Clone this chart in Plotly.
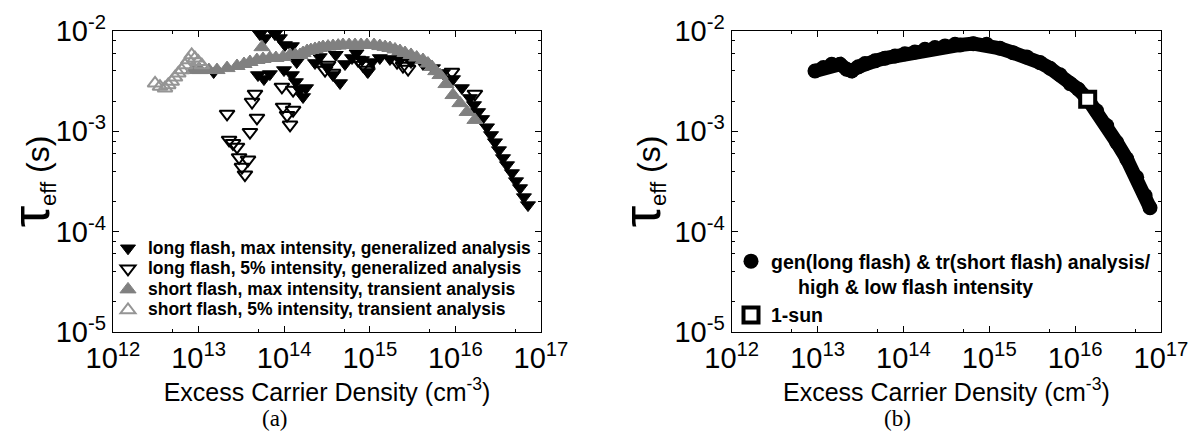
import plotly.graph_objects as go

# ---------------- data: panel (a) ----------------
long_max_x = [1.5e13, 4.94e13, 5.2e13, 5.8e13, 5.97e13, 6.8e13, 7.8e13, 8.9e13, 9.95e13, 1.02e14,
              1.23e14, 1.23e14, 1.37e14, 1.4e14, 1.53e14, 1.66e14, 1.8e14, 2.29e14, 2.6e14, 3.16e14,
              3.72e14, 4.0e14, 4.49e14, 5.13e14, 6.2e14, 7.0e14, 8.1e14, 9.5e14, 1.06e15, 1.31e15,
              1.72e15, 2.25e15, 3.03e15, 4.18e15, 5.47e15, 7.16e15, 9.37e15, 1.19e16, 1.48e16, 1.65e16,
              1.84e16, 2.05e16, 2.34e16, 2.61e16, 2.90e16, 3.23e16, 3.60e16, 4.01e16, 4.58e16, 5.11e16,
              5.69e16, 6.32e16, 7.05e16]
long_max_y = [3.9e-3, 3.64e-3, 9.3e-3, 3.32e-3, 8.5e-3, 3.72e-3, 9.3e-3, 8.5e-3, 4.08e-3, 7.25e-3,
              7.08e-3, 3.64e-3, 3.1e-3, 4.9e-3, 2.58e-3, 2.2e-3, 2.7e-3, 4.8e-3, 5.5e-3, 4.38e-3,
              3.64e-3, 5.8e-3, 3.03e-3, 4.69e-3, 5.38e-3, 6.0e-3, 5.14e-3, 3.9e-3, 4.9e-3, 5.38e-3,
              5.26e-3, 5.14e-3, 4.91e-3, 4.69e-3, 4.27e-3, 3.81e-3, 3.32e-3, 2.70e-3, 2.15e-3, 1.83e-3,
              1.56e-3, 1.33e-3, 1.10e-3, 9.2e-4, 7.8e-4, 6.5e-4, 5.42e-4, 4.61e-4, 3.84e-4, 3.19e-4,
              2.72e-4, 2.21e-4, 1.84e-4]

long_5_x = [2.15e13, 2.27e13, 2.52e13, 2.81e13, 2.97e13, 3.21e13, 3.48e13, 3.78e13, 3.98e13, 4.21e13,
            4.56e13, 4.81e13, 9.4e13, 9.7e13, 1.08e14, 1.17e14, 1.27e14, 1.27e14, 3.0e14, 3.25e14,
            3.72e14, 7.3e14, 8.3e14, 9.3e14, 2.08e15, 2.44e15, 2.8e15, 9.1e15, 1.69e16]
long_5_y = [1.49e-3, 8.2e-4, 7.6e-4, 7.0e-4, 5.5e-4, 4.4e-4, 3.7e-4, 5.2e-4, 9.8e-4, 1.96e-3,
            2.36e-3, 1.36e-3, 2.77e-3, 1.75e-3, 1.45e-3, 1.16e-3, 1.63e-3, 2.58e-3, 4.08e-3, 4.58e-3,
            3.81e-3, 5.14e-3, 4.58e-3, 4.08e-3, 4.9e-3, 4.48e-3, 4.18e-3, 3.9e-3, 2.36e-3]

short_max_x = [8.6e12, 1.04e13, 1.32e13, 1.64e13, 2.15e13, 2.81e13, 3.39e13, 3.98e13, 4.8e13, 5.5e13,
               5.65e13, 6.8e13, 8.0e13, 9.7e13, 1.17e14, 1.35e14, 1.53e14, 1.66e14, 1.85e14, 2.05e14,
               2.29e14, 2.56e14, 2.84e14, 3.25e14, 3.72e14, 4.27e14, 4.86e14, 5.73e14, 6.72e14, 7.9e14,
               9.27e14, 1.12e15, 1.31e15, 1.51e15, 1.72e15, 1.97e15, 2.25e15, 2.58e15, 3.03e15, 3.53e15,
               4.18e15, 4.78e15, 5.33e15, 5.9e15, 6.61e15, 7.76e15, 9.37e15, 1.13e16, 1.37e16, 1.69e16]
short_max_y = [4.08e-3, 4.08e-3, 4.08e-3, 4.08e-3, 4.27e-3, 4.48e-3, 4.69e-3, 4.91e-3, 5.14e-3, 6.9e-3,
               5.26e-3, 5.38e-3, 5.38e-3, 5.51e-3, 5.77e-3, 5.77e-3, 5.77e-3, 6.03e-3, 6.32e-3, 6.46e-3,
               6.62e-3, 6.77e-3, 6.92e-3, 7.0e-3, 7.08e-3, 7.15e-3, 7.25e-3, 7.25e-3, 7.25e-3, 7.25e-3,
               7.25e-3, 7.25e-3, 7.08e-3, 6.92e-3, 6.77e-3, 6.55e-3, 6.32e-3, 6.03e-3, 5.77e-3, 5.44e-3,
               5.14e-3, 4.74e-3, 4.38e-3, 3.98e-3, 3.64e-3, 2.96e-3, 2.30e-3, 1.91e-3, 1.56e-3, 1.30e-3]

short_5_x = [3.10e12, 3.54e12, 4.05e12, 4.42e12, 4.85e12, 5.30e12, 5.79e12, 6.35e12, 6.94e12, 7.59e12,
             8.30e12, 9.07e12, 9.91e12, 1.09e13]
short_5_y = [3.01e-3, 2.79e-3, 2.69e-3, 2.90e-3, 3.13e-3, 3.45e-3, 3.79e-3, 4.08e-3, 4.58e-3, 5.14e-3,
             5.77e-3, 5.35e-3, 4.94e-3, 4.58e-3]

# ---------------- data: panel (b) ----------------
comb_x = [9.33e12, 1.17e13, 1.46e13, 1.83e13, 2.18e13, 2.50e13, 2.98e13, 3.57e13, 4.67e13, 6.10e13,
          7.98e13, 1.04e14, 1.36e14, 1.78e14, 2.33e14, 3.05e14, 3.99e14, 4.56e14, 6.52e14, 9.33e14,
          1.33e15, 1.89e15, 2.73e15, 3.90e15, 5.10e15, 6.67e15, 8.72e15, 1.09e16, 1.40e16, 1.78e16,
          2.33e16, 3.05e16, 3.99e16, 5.21e16, 6.52e16, 7.45e16]
comb_y = [4.00e-3, 4.32e-3, 4.67e-3, 4.67e-3, 4.16e-3, 4.00e-3, 4.39e-3, 4.73e-3, 5.04e-3, 5.36e-3,
          5.64e-3, 5.94e-3, 6.18e-3, 6.58e-3, 6.83e-3, 7.10e-3, 7.38e-3, 7.26e-3, 7.48e-3, 7.38e-3,
          6.73e-3, 6.08e-3, 5.52e-3, 4.84e-3, 4.26e-3, 3.66e-3, 2.99e-3, 2.63e-3, 2.09e-3, 1.60e-3,
          1.14e-3, 7.76e-4, 5.31e-4, 3.48e-4, 2.29e-4, 1.73e-4]

sun_x = [1.40e16]
sun_y = [2.09e-3]

# ---------------- labels ----------------
x_tickvals = [1e12, 1e13, 1e14, 1e15, 1e16, 1e17]
x_ticktext = ["10<sup>12</sup>", "10<sup>13</sup>", "10<sup>14</sup>", "10<sup>15</sup>",
              "10<sup>16</sup>", "10<sup>17</sup>"]
x_minor = [5e12, 5e13, 5e14, 5e15, 5e16]
y_tickvals = [1e-5, 1e-4, 1e-3, 1e-2]
y_ticktext = ["10<sup>-5</sup>", "10<sup>-4</sup>", "10<sup>-3</sup>", "10<sup>-2</sup>"]
y_minor = [m * 10.0 ** e for e in (-5, -4, -3) for m in (2, 4, 6, 8)]

x_title = "Excess Carrier Density (cm<sup>-3</sup>)"
y_title = '<span style="font-size:54px">τ</span><sub><span style="font-size:22px">eff</span></sub> (s)'

legend_a = ["long flash, max intensity, generalized analysis",
            "long flash, 5% intensity, generalized analysis",
            "short flash, max intensity, transient analysis",
            "short flash, 5% intensity, transient analysis"]
legend_b = ["gen(long flash) & tr(short flash) analysis/<br>" + "\u00a0" * 5 + "high & low flash intensity",
            "1-sun"]


def big(s):
    return '<span style="font-size:17.5px">' + s + "</span>"


GRAY = "#808080"
LGRAY = "#959595"
FONT = "Liberation Sans, Arial, sans-serif"

fig = go.Figure()

# panel (a)
fig.add_trace(go.Scatter(x=long_max_x, y=long_max_y, mode="markers", name=big(legend_a[0]),
                         marker=dict(symbol="triangle-down", size=13, color="black",
                                     line=dict(color="black", width=1)),
                         xaxis="x", yaxis="y", legend="legend"))
fig.add_trace(go.Scatter(x=long_5_x, y=long_5_y, mode="markers", name=big(legend_a[1]),
                         marker=dict(symbol="triangle-down-open", size=13, color="black",
                                     line=dict(color="black", width=2)),
                         xaxis="x", yaxis="y", legend="legend"))
fig.add_trace(go.Scatter(x=short_max_x, y=short_max_y, mode="markers", name=big(legend_a[2]),
                         marker=dict(symbol="triangle-up", size=14, color=GRAY,
                                     line=dict(color=GRAY, width=1)),
                         xaxis="x", yaxis="y", legend="legend"))
fig.add_trace(go.Scatter(x=short_5_x, y=short_5_y, mode="markers", name=big(legend_a[3]),
                         marker=dict(symbol="triangle-up-open", size=13, color=LGRAY,
                                     line=dict(color=LGRAY, width=2)),
                         xaxis="x", yaxis="y", legend="legend"))

# panel (b)
fig.add_trace(go.Scatter(x=comb_x, y=comb_y, mode="lines", showlegend=False,
                         line=dict(color="black", width=14),
                         xaxis="x2", yaxis="y2"))
fig.add_trace(go.Scatter(x=comb_x, y=comb_y, mode="markers", name=legend_b[0],
                         marker=dict(symbol="circle", size=15, color="black"),
                         xaxis="x2", yaxis="y2", legend="legend2"))
fig.add_trace(go.Scatter(x=sun_x, y=sun_y, mode="markers", name=legend_b[1],
                         marker=dict(symbol="square", size=15, color="white",
                                     line=dict(color="black", width=4)),
                         xaxis="x2", yaxis="y2", legend="legend2"))

W, H = 1197, 435
ydom = [1 - 332 / H, 1 - 31 / H]


def xaxis(domain, anchor):
    return dict(type="log", range=[12, 17], domain=domain, anchor=anchor, automargin=False,
                showline=True, linecolor="black", linewidth=1.3, mirror="ticks",
                ticks="inside", ticklen=6, tickwidth=1, tickcolor="black",
                tickmode="array", tickvals=x_tickvals, ticktext=x_ticktext,
                tickfont=dict(family=FONT, size=29, color="black"),
                minor=dict(tickmode="array", tickvals=x_minor, ticks="inside", ticklen=3,
                           tickwidth=1, tickcolor="black"),
                showgrid=False, zeroline=False,
                title=dict(text=x_title, font=dict(family=FONT, size=25, color="black"), standoff=10))


def yaxis(anchor):
    return dict(type="log", range=[-5, -2], domain=ydom, anchor=anchor, automargin=False,
                showline=True, linecolor="black", linewidth=1.3, mirror="ticks",
                ticks="inside", ticklen=6, tickwidth=1, tickcolor="black",
                tickmode="array", tickvals=y_tickvals, ticktext=y_ticktext,
                tickfont=dict(family=FONT, size=29, color="black"),
                minor=dict(tickmode="array", tickvals=y_minor, ticks="inside", ticklen=3,
                           tickwidth=1, tickcolor="black"),
                showgrid=False, zeroline=False,
                title=dict(text=y_title, font=dict(family=FONT, size=32, color="black"), standoff=4))


fig.update_layout(
    template="none",
    width=W, height=H,
    margin=dict(l=0, r=0, t=0, b=0),
    paper_bgcolor="white", plot_bgcolor="white",
    xaxis=xaxis([113 / W, 541 / W], "y"),
    yaxis=yaxis("x"),
    xaxis2=xaxis([731.7 / W, 1161 / W], "y2"),
    yaxis2=yaxis("x2"),
    legend=dict(x=108 / W, y=1 - 233 / H, xanchor="left", yanchor="top",
                bgcolor="rgba(0,0,0,0)", borderwidth=0, tracegroupgap=0,
                font=dict(family=FONT, size=13.5, color="black", weight="bold")),
    legend2=dict(x=731 / W, y=1 - 242 / H, xanchor="left", yanchor="top", valign="top",
                 bgcolor="rgba(0,0,0,0)", borderwidth=0,
                 font=dict(family=FONT, size=19.5, color="black", weight="bold")),
    annotations=[
        dict(text="(a)", x=275 / W, y=1 - 418 / H, xref="paper", yref="paper", showarrow=False,
             xanchor="center", yanchor="middle",
             font=dict(family="Liberation Serif, serif", size=23, color="black")),
        dict(text="(b)", x=897 / W, y=1 - 418 / H, xref="paper", yref="paper", showarrow=False,
             xanchor="center", yanchor="middle",
             font=dict(family="Liberation Serif, serif", size=23, color="black")),
    ],
)

fig.write_html("out.html")
